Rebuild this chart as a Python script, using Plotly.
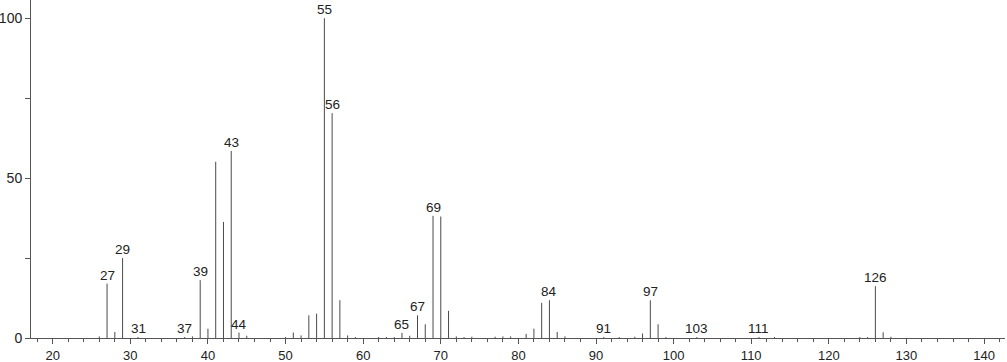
import plotly.graph_objects as go

mz = [26, 27, 28, 29, 31, 37, 38, 39, 40, 41, 42, 43, 44, 45, 50, 51, 52, 53, 54, 55,
      56, 57, 58, 59, 62, 63, 64, 65, 66, 67, 68, 69, 70, 71, 72, 73, 74, 77, 78, 79,
      81, 82, 83, 84, 85, 86, 91, 93, 95, 96, 97, 98, 99, 103, 111, 113, 124, 125, 126, 127, 128]
intensity = [0.5, 17.0, 1.9, 25.0, 0.3, 0.3, 0.5, 18.1, 2.9, 55.1, 36.3, 58.5, 1.7, 0.7, 0.3, 1.7, 0.8, 7.1, 7.6, 100.0,
             70.3, 11.8, 0.8, 0.3, 0.3, 0.3, 0.3, 1.6, 0.7, 7.1, 4.3, 38.2, 38.0, 8.5, 0.5, 0.3, 0.4, 0.4, 0.5, 0.5,
             1.3, 2.9, 11.0, 11.8, 1.9, 0.5, 0.3, 0.3, 0.4, 1.4, 11.8, 4.3, 0.3, 0.3, 0.3, 0.3, 0.3, 0.3, 16.2, 1.8, 0.4]
labeled = [27, 29, 31, 37, 39, 43, 44, 55, 56, 65, 67, 69, 84, 91, 97, 103, 111, 126]

xs, ys = [], []
for m, v in zip(mz, intensity):
    xs += [m, m, None]
    ys += [0, v, None]

fig = go.Figure()
fig.add_trace(go.Scatter(x=xs, y=ys, mode="lines", line=dict(color="#4a4a4a", width=1),
                         hoverinfo="skip", showlegend=False, cliponaxis=False))

lookup = dict(zip(mz, intensity))
for m in labeled:
    fig.add_annotation(x=m, y=lookup[m], text=str(m), showarrow=False, yanchor="bottom",
                       xanchor="center", font=dict(family="Liberation Sans, Arial", size=13.5, color="#222"),
                       borderpad=0, yshift=0)

axis_font = dict(family="Liberation Sans, Arial", size=13, color="#222")
fig.update_layout(
    width=1007, height=362,
    margin=dict(l=31, r=2, t=0, b=24, autoexpand=False),
    paper_bgcolor="white", plot_bgcolor="white",
    xaxis=dict(range=[17.2, 142.7], showgrid=False, zeroline=False, showline=True, automargin=False,
               linecolor="#555", linewidth=1, ticks="outside", ticklen=5, tickcolor="#555",
               dtick=10, tick0=0, tickfont=axis_font, ticklabelstandoff=0,
               minor=dict(dtick=2, tick0=0, ticks="outside", ticklen=3, tickcolor="#555", showgrid=False)),
    yaxis=dict(range=[0, 105.7], showgrid=False, zeroline=False, showline=True, automargin=False,
               linecolor="#555", linewidth=1, ticks="outside", ticklen=5, tickcolor="#555",
               dtick=50, tick0=0, tickfont=dict(family="Liberation Sans, Arial", size=14, color="#222"),
               ticklabelstandoff=0,
               minor=dict(dtick=25, tick0=0, ticks="outside", ticklen=5, tickcolor="#555", showgrid=False)),
)
fig.write_html("out.html", config={"displayModeBar": False},
               post_script="document.body.style.margin='0';document.body.style.overflow='hidden';")
